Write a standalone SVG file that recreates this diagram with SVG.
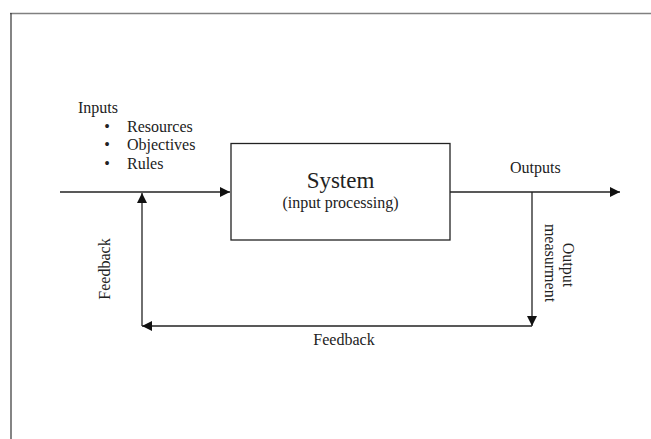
<svg xmlns="http://www.w3.org/2000/svg" width="651" height="439" viewBox="0 0 651 439">
<defs>
<style>
.t{font-family:"Liberation Serif","Times New Roman",serif;font-size:16px;fill:#222}
.big{font-size:23px}
.ln{stroke:#222;stroke-width:1.3;fill:none}
</style>
<marker id="ah" markerUnits="userSpaceOnUse" markerWidth="10" markerHeight="10" refX="10" refY="5" orient="auto">
<path d="M0,0 L10,5 L0,10 z" fill="#111"/>
</marker>
</defs>
<rect width="651" height="439" fill="#fff"/>
<g id="frame">
<line x1="10" y1="13.5" x2="651" y2="13.5" stroke="#808080" stroke-width="1.5"/>
<line x1="11" y1="13" x2="11" y2="439" stroke="#333" stroke-width="1.2"/>
</g>
<g id="inputs">
<text class="t" x="78" y="113">Inputs</text>
<text class="t" x="107" y="131.5" text-anchor="middle">•</text>
<text class="t" x="127" y="131.5">Resources</text>
<text class="t" x="107" y="150" text-anchor="middle">•</text>
<text class="t" x="127" y="150">Objectives</text>
<text class="t" x="107" y="168.5" text-anchor="middle">•</text>
<text class="t" x="127" y="168.5">Rules</text>
</g>
<g id="system">
<rect x="231" y="143.5" width="219" height="96.5" fill="#fff" stroke="#222" stroke-width="1.3"/>
<text class="t big" x="340.5" y="188" text-anchor="middle">System</text>
<text class="t" x="340.5" y="208" text-anchor="middle">(input processing)</text>
</g>
<g id="outputs">
<text class="t" x="510" y="173">Outputs</text>
</g>
<g id="measurement">
<text class="t" transform="translate(562.5,265) rotate(90)" text-anchor="middle">Output</text>
<text class="t" transform="translate(545,263) rotate(90)" text-anchor="middle">measurment</text>
</g>
<g id="feedback-labels">
<text class="t" transform="translate(110,269) rotate(-90)" text-anchor="middle">Feedback</text>
<text class="t" x="344" y="345" text-anchor="middle">Feedback</text>
</g>
<g id="connectors">
<line class="ln" x1="60" y1="192" x2="230" y2="192" marker-end="url(#ah)"/>
<line class="ln" x1="450" y1="192" x2="620" y2="192" marker-end="url(#ah)"/>
<line class="ln" x1="532" y1="192" x2="532" y2="326" marker-end="url(#ah)"/>
<line class="ln" x1="532" y1="326" x2="142" y2="326" marker-end="url(#ah)"/>
<line class="ln" x1="142" y1="326" x2="142" y2="193" marker-end="url(#ah)"/>
</g>
</svg>
